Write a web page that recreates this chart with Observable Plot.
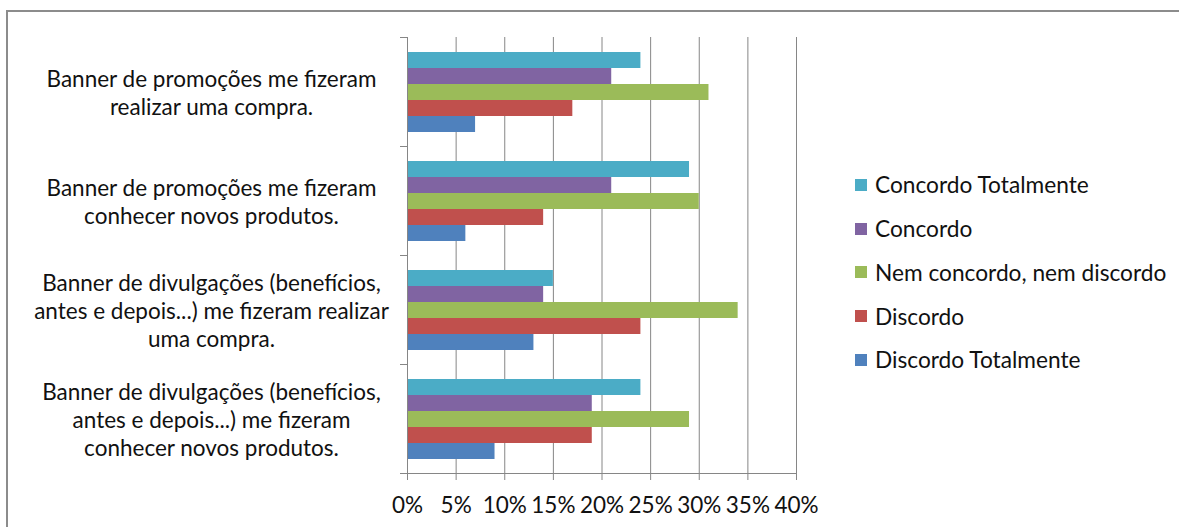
<!DOCTYPE html>
<html lang="pt">
<head>
<meta charset="utf-8">
<script src="https://cdn.jsdelivr.net/npm/d3@7"></script>
<script src="https://cdn.jsdelivr.net/npm/@observablehq/plot@0.6"></script>
<style>
  html, body { margin: 0; padding: 0; background: #fff; overflow: hidden; }
  #wrap { position: relative; width: 1179px; height: 527px; overflow: hidden; font-family: Lato, "Open Sans", sans-serif; }
  #border { position: absolute; left: 6px; top: 10px; width: 1300px; height: 700px; border: 2px solid #8c8c8c; box-sizing: border-box; }
  #chart { position: absolute; left: 0; top: 0; }
  #legend { position: absolute; left: 855px; top: 163px; }
  #legend .row { display: flex; align-items: center; height: 43.75px; font-size: 22.7px; color: #111; white-space: nowrap; }
  #legend .sw { width: 12px; height: 12px; margin-right: 8px; flex: none; }
</style>
</head>
<body>
<div id="wrap">
  <div id="border"></div>
  <div id="chart"></div>
  <div id="legend"></div>
</div>
<script>
// Survey statements (top to bottom) and their wrapped tick labels
const categories = [
  "Banner de promoções me fizeram realizar uma compra.",
  "Banner de promoções me fizeram conhecer novos produtos.",
  "Banner de divulgações (benefícios, antes e depois...) me fizeram realizar uma compra.",
  "Banner de divulgações (benefícios, antes e depois...) me fizeram conhecer novos produtos."
];
const categoryLabels = [
  "Banner de promoções me fizeram\nrealizar uma compra.",
  "Banner de promoções me fizeram\nconhecer novos produtos.",
  "Banner de divulgações (benefícios,\nantes e depois...) me fizeram realizar\numa compra.",
  "Banner de divulgações (benefícios,\nantes e depois...) me fizeram\nconhecer novos produtos."
];

// Answer options (legend order, also bar order inside each group)
const series = [
  "Concordo Totalmente",
  "Concordo",
  "Nem concordo, nem discordo",
  "Discordo",
  "Discordo Totalmente"
];
const seriesColors = ["#4BACC6", "#8064A2", "#9BBB59", "#C0504D", "#4F81BD"];

// Percentages per statement, one array per answer option
const concordoTotalmente = [24, 29, 15, 24];
const concordo           = [21, 21, 14, 19];
const nemConcordoNem     = [31, 30, 34, 29];
const discordo           = [17, 14, 24, 19];
const discordoTotalmente = [7, 6, 13, 9];

const xTicks = [0, 5, 10, 15, 20, 25, 30, 35, 40];

const valuesBySeries = [concordoTotalmente, concordo, nemConcordoNem, discordo, discordoTotalmente];
const rows = [];
series.forEach((s, si) => {
  categories.forEach((c, ci) => {
    rows.push({category: c, series: s, value: valuesBySeries[si][ci]});
  });
});

const labelOf = new Map(categories.map((c, i) => [c, categoryLabels[i]]));
const axisGray = "#868686";
const textColor = "#111";

const chart = Plot.plot({
  width: 1179,
  height: 527,
  marginLeft: 407,
  marginRight: 383,
  marginTop: 37,
  marginBottom: 54,
  style: {fontFamily: "Lato, 'Open Sans', sans-serif", fontSize: "22.5px", color: textColor, background: "transparent", overflow: "visible"},
  x: {domain: [0, 40], axis: null},
  y: {domain: series, paddingInner: 0, paddingOuter: 0.78, axis: null},
  fy: {domain: categories, padding: 0, axis: null},
  color: {domain: series, range: seriesColors},
  marks: [
    Plot.gridX(xTicks, {stroke: axisGray, strokeOpacity: 1, strokeWidth: 1}),
    Plot.barX(rows, {x: "value", y: "series", fy: "category", fill: "series"}),
    Plot.frame({anchor: "left", stroke: axisGray}),
    Plot.frame({anchor: "top", stroke: axisGray, insetLeft: -7, insetRight: 389}),
    Plot.frame({anchor: "bottom", facetAnchor: "bottom", stroke: axisGray, insetLeft: -7}),
    Plot.axisX(xTicks, {
      tickSize: 7, tickPadding: 17, stroke: axisGray, fill: textColor,
      tickFormat: (d) => d + "%", label: null, fontSize: 22.5
    }),
    Plot.axisFy({
      anchor: "left", tickSize: 0, tickPadding: 0, label: null,
      textAnchor: "middle", dx: -196, lineHeight: 1.25, fontSize: 22.5,
      fill: textColor, tickFormat: (d) => labelOf.get(d)
    })
  ]
});
document.getElementById("chart").appendChild(chart);

// Legend on the right
const legend = d3.select("#legend");
series.forEach((s, i) => {
  const row = legend.append("div").attr("class", "row");
  row.append("div").attr("class", "sw").style("background", seriesColors[i]);
  row.append("span").text(s);
});
</script>
</body>
</html>
